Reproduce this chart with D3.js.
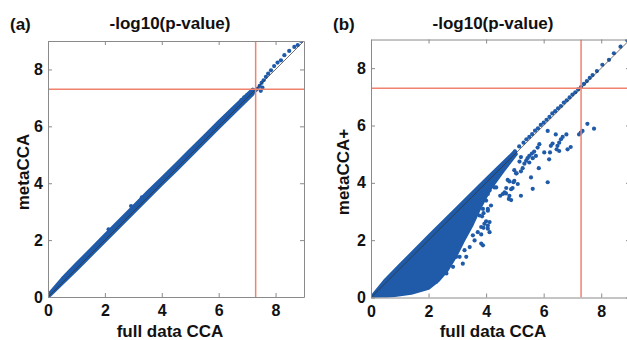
<!DOCTYPE html>
<html>
<head>
<meta charset="utf-8">
<script src="https://cdn.jsdelivr.net/npm/d3@7/dist/d3.min.js"></script>
<style>
  body { margin: 0; background: #fff; }
  svg { display: block; font-family: "Liberation Sans", Arial, sans-serif; font-weight: bold; }
</style>
</head>
<body>
<svg id="chart-svg" width="627" height="340"></svg>
<script>
// axis ticks and genome-wide threshold (-log10(5e-8))
const ticks = [0, 2, 4, 6, 8]
const threshold = 7.3

// (a) dense band along the diagonal: [x, yLow, yHigh]
const bandA = [
    [0, 0, 0.05], [0.5, 0.48, 0.64], [1, 0.97, 1.16], [1.5, 1.47, 1.66],
    [2, 1.97, 2.17], [2.5, 2.47, 2.67], [3, 2.97, 3.17], [3.5, 3.47, 3.68],
    [4, 3.97, 4.17], [4.5, 4.46, 4.66], [5, 4.96, 5.16], [5.5, 5.46, 5.65],
    [6, 5.96, 6.15], [6.5, 6.45, 6.64], [7.2, 7.14, 7.3]
]
// (a) single points off / beyond the band
const pointsA = [
    [2.13, 2.38], [2.92, 3.2], [3.3, 3.5], [6.8, 6.92], [6.9, 7.02], [7.0, 7.1],
    [7.15, 7.13], [7.22, 7.21], [7.3, 7.27], [7.37, 7.33], [7.44, 7.42],
    [7.48, 7.25], [7.54, 7.36], [7.51, 7.53], [7.58, 7.62], [7.66, 7.74],
    [7.74, 7.85], [7.84, 7.97], [7.95, 8.12], [8.07, 8.24], [8.19, 8.32],
    [8.31, 8.5], [8.48, 8.65], [8.66, 8.79], [8.78, 8.86], [8.9, 9.0]
]

// (b) outline of the dense wedge under the diagonal
const wedgeB = [
    [0, 0], [0.5, 0.62], [1, 1.13], [2, 2.14], [3, 3.14], [4, 4.13], [5, 5.11],
    [5.05, 5.0], [4.6, 4.42], [4.15, 3.8], [3.8, 3.15], [3.5, 2.5],
    [3.2, 1.95], [2.95, 1.45], [2.65, 0.95], [2.35, 0.6], [2.0, 0.32],
    [1.4, 0.15], [0.7, 0.05], [0.2, 0]
]
// (b) points running along the diagonal above the wedge
const diagB = [
    [5.0, 5.1], [5.15, 5.27], [5.3, 5.4], [5.4, 5.52], [5.5, 5.6], [5.6, 5.7],
    [5.7, 5.82], [5.8, 5.9], [5.9, 6.02], [6.0, 6.1], [6.1, 6.2], [6.2, 6.3],
    [6.3, 6.42], [6.4, 6.5], [6.5, 6.6], [6.6, 6.68], [6.7, 6.8], [6.8, 6.88],
    [6.9, 6.98], [7.0, 7.08], [7.1, 7.16], [7.2, 7.26], [7.3, 7.34], [7.4, 7.45],
    [7.5, 7.55], [7.6, 7.66], [7.7, 7.76], [7.85, 7.9], [8.04, 8.12], [8.27, 8.29],
    [8.44, 8.52], [8.67, 8.75], [8.9, 8.98]
]
// (b) scattered points below the diagonal
const scatterB = [
    [7.52, 6.06], [7.75, 5.89], [7.29, 5.75], [7.23, 5.69], [7.35, 5.81],
    [6.94, 5.25], [6.83, 5.17], [6.79, 5.69], [6.66, 5.6], [6.6, 5.52],
    [6.54, 5.4], [6.48, 5.29], [6.45, 5.17], [6.31, 5.37], [6.25, 5.29],
    [6.42, 5.69], [6.14, 5.81], [5.85, 5.35], [5.79, 5.23], [5.67, 5.09],
    [5.59, 5.02], [5.5, 4.94], [5.44, 4.86], [5.39, 4.77], [5.33, 4.67],
    [5.5, 4.71], [5.62, 4.86], [5.73, 4.94], [5.21, 4.9], [5.16, 4.74],
    [5.27, 4.51], [6.22, 5.06], [6.19, 4.82], [6.02, 5.06], [5.83, 4.51],
    [5.56, 4.19], [5.21, 4.4], [5.04, 4.33], [4.98, 4.07], [4.81, 4.05],
    [4.92, 3.82], [4.7, 3.82], [4.64, 3.67], [4.49, 3.55], [4.81, 3.55],
    [4.87, 3.4], [5.21, 3.55], [5.62, 3.79], [6.14, 4.02], [4.29, 3.84],
    [4.12, 3.73], [4.17, 3.21], [4.06, 3.09], [3.91, 2.94], [3.86, 2.83],
    [4.0, 2.66], [4.06, 2.51], [3.91, 2.43], [3.83, 2.2], [4.12, 2.28],
    [6.54, 5.11], [4.98, 4.44], [5.06, 4.33], [4.75, 4.1], [4.95, 4.02],
    [5.1, 3.96], [4.87, 3.78], [4.58, 3.61], [4.69, 3.63], [4.79, 3.44],
    [4.29, 4.1], [4.35, 3.84], [4.18, 3.9], [4.06, 3.61], [4.0, 3.38],
    [3.89, 3.09], [4.06, 3.03], [3.77, 2.86], [3.6, 2.8], [3.94, 2.57],
    [3.83, 2.46], [4.12, 2.63], [4.06, 2.4], [3.71, 2.28], [3.54, 2.17],
    [3.6, 1.99], [3.43, 1.76], [3.25, 1.65], [3.08, 1.42], [3.31, 1.42],
    [3.83, 1.88], [3.89, 1.82], [3.19, 1.18], [2.85, 1.07], [2.96, 1.42],
    [2.62, 0.84], [2.39, 0.72], [2.27, 0.55], [1.98, 0.38]
]

const BLUE = '#1f5ba8'
const RED = '#f0826e'
const AXIS = '#8a8a8a'

const svg = d3.select('#chart-svg')

const panels = [
    {
        key: 'a', tag: '(a)', ylabel: 'metaCCA',
        left: 48, right: 304, top: 41, bottom: 297, tagX: 10, ylabelX: 28.5,
        draw: (plot, x, y) => {
            plot.append('path')
                .datum(bandA)
                .attr('fill', BLUE)
                .attr('stroke', BLUE)
                .attr('stroke-width', 3.5)
                .attr('stroke-linejoin', 'round')
                .attr('d', d3.area().x(d => x(d[0])).y0(d => y(d[1])).y1(d => y(d[2])))
            plot.selectAll('.pt').data(pointsA).enter().append('circle')
                .attr('cx', d => x(d[0])).attr('cy', d => y(d[1])).attr('r', 2.1)
                .attr('fill', BLUE)
        }
    },
    {
        key: 'b', tag: '(b)', ylabel: 'metaCCA+',
        left: 371, right: 630, top: 39.5, bottom: 297.5, tagX: 333, ylabelX: 348.5,
        draw: (plot, x, y) => {
            plot.append('path')
                .datum(wedgeB)
                .attr('fill', BLUE)
                .attr('stroke', BLUE)
                .attr('stroke-width', 3)
                .attr('stroke-linejoin', 'round')
                .attr('d', d3.line().x(d => x(d[0])).y(d => y(d[1])).curve(d3.curveLinearClosed))
            plot.selectAll('.pt').data(diagB.concat(scatterB)).enter().append('circle')
                .attr('cx', d => x(d[0])).attr('cy', d => y(d[1])).attr('r', 2.1)
                .attr('fill', BLUE)
        }
    }
]

function styleAxis(g) {
    g.selectAll('path, line').attr('stroke', AXIS).attr('stroke-width', 1)
    g.selectAll('text')
        .attr('fill', '#111')
        .style('font-family', '"Liberation Sans", Arial, sans-serif')
        .style('font-weight', 'bold')
        .style('font-size', '16px')
}

function renderPanel(cfg) {
    const x = d3.scaleLinear().domain([0, 9]).range([cfg.left, cfg.right])
    const y = d3.scaleLinear().domain([0, 9]).range([cfg.bottom, cfg.top])
    const g = svg.append('g')

    g.append('clipPath').attr('id', 'clip-' + cfg.key)
        .append('rect')
        .attr('x', cfg.left).attr('y', cfg.top)
        .attr('width', cfg.right - cfg.left).attr('height', cfg.bottom - cfg.top)

    const plot = g.append('g').attr('clip-path', 'url(#clip-' + cfg.key + ')')
    cfg.draw(plot, x, y)

    // y = x reference line
    plot.append('line')
        .attr('x1', x(0)).attr('y1', y(0)).attr('x2', x(9)).attr('y2', y(9))
        .attr('stroke', '#333').attr('stroke-width', 0.7)

    // threshold lines
    plot.append('line')
        .attr('x1', x(threshold)).attr('x2', x(threshold)).attr('y1', y(0)).attr('y2', y(9))
        .attr('stroke', RED).attr('stroke-width', 1.5)
    plot.append('line')
        .attr('x1', x(0)).attr('x2', x(9)).attr('y1', y(threshold)).attr('y2', y(threshold))
        .attr('stroke', RED).attr('stroke-width', 1.5)

    // box with inward ticks
    g.append('g').attr('transform', 'translate(0,' + cfg.bottom + ')')
        .call(d3.axisBottom(x).tickValues(ticks).tickSize(-4).tickSizeOuter(0).tickPadding(8))
        .call(styleAxis)
    g.append('g').attr('transform', 'translate(' + cfg.left + ',0)')
        .call(d3.axisLeft(y).tickValues(ticks).tickSize(-4).tickSizeOuter(0).tickPadding(5))
        .call(styleAxis)
    g.append('g').attr('transform', 'translate(0,' + cfg.top + ')')
        .call(d3.axisTop(x).tickValues(ticks).tickSize(-4).tickSizeOuter(0).tickFormat(''))
        .call(styleAxis)
    g.append('g').attr('transform', 'translate(' + cfg.right + ',0)')
        .call(d3.axisRight(y).tickValues(ticks).tickSize(-4).tickSizeOuter(0).tickFormat(''))
        .call(styleAxis)

    // titles and labels
    g.append('text')
        .attr('x', cfg.left + 122).attr('y', 28.5)
        .attr('text-anchor', 'middle').style('font-size', '17px').attr('fill', '#111')
        .text('-log10(p-value)')
    g.append('text')
        .attr('x', cfg.tagX).attr('y', 30)
        .style('font-size', '17px').attr('fill', '#111')
        .text(cfg.tag)
    g.append('text')
        .attr('x', cfg.left + 122).attr('y', 337)
        .attr('text-anchor', 'middle').style('font-size', '17px').attr('fill', '#111')
        .text('full data CCA')
    g.append('text')
        .attr('transform', 'translate(' + cfg.ylabelX + ',172) rotate(-90)')
        .attr('text-anchor', 'middle').style('font-size', '17px').attr('fill', '#111')
        .text(cfg.ylabel)
}

panels.forEach(renderPanel)
</script>
</body>
</html>
